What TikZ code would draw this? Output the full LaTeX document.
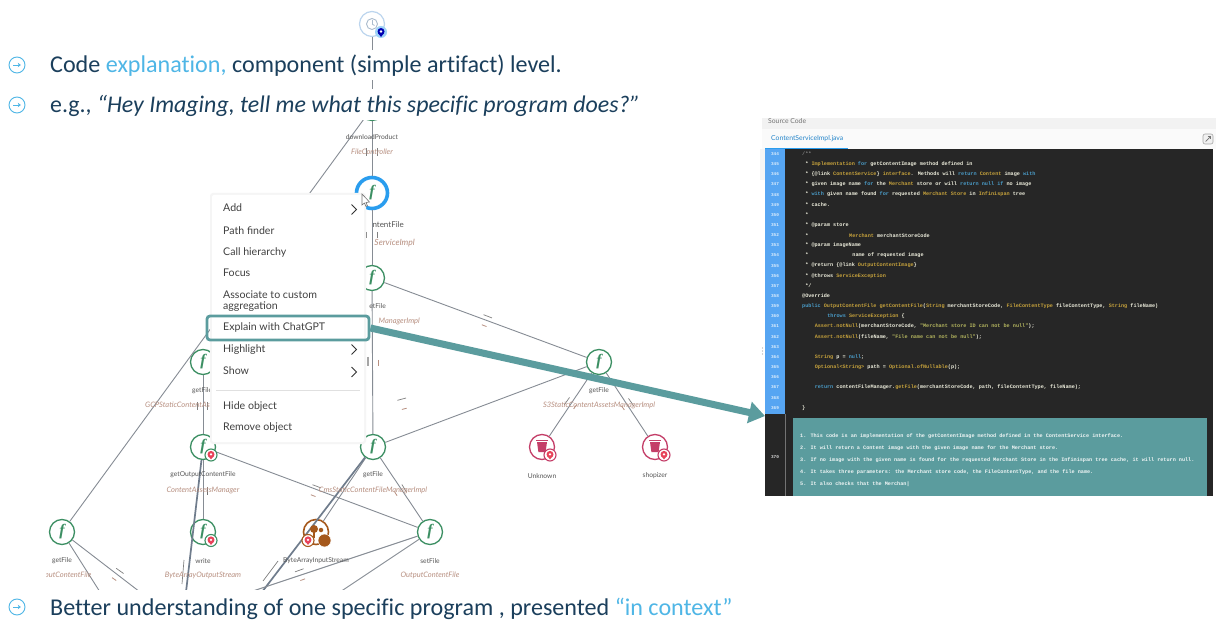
\documentclass[tikz,border=0pt]{standalone}
\usepackage{fontspec}
\setmainfont{Carlito}[Ligatures=NoCommon]
\newfontfamily\uifont{Lato}
\newfontfamily\codefont{Liberation Mono}
\newfontfamily\ffont{Liberation Serif}
\usetikzlibrary{arrows.meta,calc}
\definecolor{navy}{HTML}{1B3F5C}
\definecolor{sky}{HTML}{4FB6E6}
\definecolor{teal1}{HTML}{5B9C9E}
\definecolor{fgreen}{HTML}{3C8F63}
\definecolor{ringblue}{HTML}{2A9DEE}
\definecolor{pale}{HTML}{BCD5EE}
\definecolor{crim}{HTML}{C43E68}
\definecolor{pinred}{HTML}{E8435A}
\definecolor{brownn}{HTML}{A5581C}
\definecolor{edgeg}{HTML}{868C94}
\definecolor{edged}{HTML}{6F7C8C}
\definecolor{lblgray}{HTML}{555555}
\definecolor{lblbrown}{HTML}{B78F80}
\definecolor{codebg}{HTML}{262626}
\definecolor{numblue}{HTML}{56A5F2}
\definecolor{kw}{HTML}{4A9CC8}
\definecolor{yl}{HTML}{C6A23C}
\definecolor{st}{HTML}{B3B45E}
\definecolor{pl}{HTML}{EDEDDC}
\newcommand{\K}[1]{\textcolor{kw}{#1}}
\newcommand{\Y}[1]{\textcolor{yl}{#1}}
\newcommand{\St}[1]{\textcolor{st}{#1}}
\newcommand{\cl}[3]{%
  \pgfmathsetmacro{\cly}{154+(#1-344)*10.15}%
  \pgfmathsetmacro{\clx}{802+#2*3.14}%
  \node[codeline] (c#1) at (\clx,\cly) {#3};}
\newcommand{\tl}[3]{\node[tealline] (t#1) at (800,#2) {#3};}
\newcommand{\fn}[3]{\node[fnode] (#1) at (#2,#3) {f};}
\newcommand{\lb}[4]{\node[nlabel] (#1) at (#2,#3) {#4};}
\newcommand{\lc}[4]{\node[clabel] (#1) at (#2,#3) {#4};}
\newcommand{\badge}[4]{%
  \node[badgering,draw=#4] (#1) at (#2,#3) {};
  \node[pinhead] (#1p) at (#2,#3-0.6) {};
  \fill[pinred] ($(#1p)+(-3,1.2)$) -- ($(#1p)+(3,1.2)$) -- ($(#1p)+(0,5)$) -- cycle;
  \node[pindot] (#1d) at (#2,#3-0.6) {};}
\newcommand{\mk}[3]{%
  \begin{scope}[shift={(#1,#2)},rotate=-#3]
    \draw[line width=.7pt,black!50] (-4.5,-5) -- (4.5,-5);
    \draw[line width=.8pt,lblbrown] (-2.5,5) -- (2.5,5);
  \end{scope}}
\newcommand{\bul}[2]{%
  \node[bulletc] (#1) at (17,#2) {};
  \draw[-{Stealth[length=3pt,width=4.5pt]},sky,line width=.9pt] ($(#1.center)+(-3.8,0)$) -- ($(#1.center)+(3.8,0)$);}
\newcommand{\chev}[1]{\draw[line width=1pt,black!80] ($(#1)+(-2.5,-5)$) -- ($(#1)+(2.5,0)$) -- ($(#1)+(-2.5,5)$);}
\tikzset{
  fnode/.style={circle,draw=fgreen,fill=white,line width=1.3pt,minimum size=25pt,inner sep=0pt,text=fgreen,font=\ffont\fontsize{16}{16}\selectfont\bfseries\itshape},
  nlabel/.style={font=\uifont\fontsize{6.7}{7}\selectfont,text=lblgray,inner sep=0pt},
  clabel/.style={font=\uifont\fontsize{7.5}{8}\selectfont\itshape,text=lblbrown,inner sep=0pt},
  edgeline/.style={edgeg,line width=.9pt},
  thickedge/.style={edged,line width=1.7pt},
  badgering/.style={circle,fill=white,line width=1.1pt,minimum size=12pt,inner sep=0pt},
  pinhead/.style={circle,fill=pinred,minimum size=7pt,inner sep=0pt},
  pindot/.style={circle,fill=white,minimum size=2.6pt,inner sep=0pt},
  bulletc/.style={circle,draw=sky,fill=white,line width=.9pt,minimum size=16pt,inner sep=0pt},
  bigtext/.style={anchor=base west,inner sep=0pt,text=navy,font=\fontsize{24.1}{25}\selectfont},
  menuitem/.style={anchor=base west,inner sep=0pt,text=black!75,font=\uifont\fontsize{10.6}{11}\selectfont},
  codeline/.style={anchor=west,inner sep=0pt,text=pl,font=\codefont\bfseries\fontsize{5.16}{6}\selectfont},
  tealline/.style={anchor=west,inner sep=0pt,text=white!90!teal1,font=\codefont\bfseries\fontsize{5.16}{6}\selectfont},
  lineno/.style={inner sep=0pt,text=white!80!numblue,font=\codefont\bfseries\fontsize{4.4}{5}\selectfont},
  bucketn/.style={circle,draw=crim,fill=white,line width=1.3pt,minimum size=25pt,inner sep=0pt},
}
\begin{document}
\begin{tikzpicture}[x=1pt,y=-1pt]
\useasboundingbox (0,0) rectangle (1216,620);
\fill[white] (0,0) rectangle (1216,620);
% --- graph nodes
\node[circle,draw=pale,fill=white,line width=1.2pt,minimum size=25pt,inner sep=0pt] (top) at (372,24) {};
\node[fnode] (dl) at (372,108) {};
\node[circle,draw=ringblue,fill=white,line width=3.6pt,minimum size=31pt,inner sep=0pt,text=fgreen,font=\ffont\fontsize{16}{16}\selectfont\bfseries\itshape] (cf) at (372,193) {f};
\fn{gfa}{372}{278}
\fn{gfb}{203}{362}
\fn{gfr}{599}{362}
\fn{goc}{203}{447}
\fn{gfc}{373}{447}
\fn{gfd}{62}{532}
\fn{wr}{203}{532}
\node[circle,draw=brownn,fill=white,line width=1.6pt,minimum size=25pt,inner sep=0pt] (bais) at (316,532) {};
\fn{sf}{430}{532}
\node[bucketn] (unk) at (542,447) {};
\node[bucketn] (shp) at (655,447) {};
% --- free ends
\coordinate (e1) at (186,592);
\coordinate (e2) at (262,592);
\coordinate (e3) at (250,592);
\coordinate (e4) at (340,592);
\coordinate (e5) at (100,592);
\coordinate (e6) at (140,592);
% --- edges
\draw[edgeline] (top) -- (dl);
\draw[edgeline] (dl) -- (cf);
\draw[edgeline] (cf) -- (gfa);
\draw[edgeline] (gfa) -- (gfc);
\draw[edgeline] (gfa) -- (gfr);
\draw[edgeline] (dl) -- (gfd);
\draw[edgeline] (gfb) -- (goc);
\draw[edgeline] (goc) -- (wr);
\draw[edgeline] (goc) -- (sf);
\draw[edgeline] (gfc) -- (sf);
\draw[edgeline] (gfc) -- (gfr);
\draw[edgeline] (gfc) -- (bais);
\draw[edgeline] (gfr) -- (unk);
\draw[edgeline] (gfr) -- (shp);
\draw[thickedge] (goc) -- (e1);
\draw[thickedge] (gfc) -- (e2);
\draw[edgeline,line width=1pt] (sf) -- (e3);
\draw[edgeline] (sf) -- (e4);
\draw[edgeline] (gfd) -- (e5);
\draw[edgeline] (gfd) -- (e6);
\mk{486}{321}{21}
\mk{403}{404}{-15}
\mk{315}{491}{21}
\mk{301}{575}{-20}
\mk{117}{575}{35}
\mk{571}{404}{-55}
\mk{627}{405}{55}
\mk{400}{491}{58}
\draw[line width=.7pt,black!50] (278,561) -- (263,581);
\draw[line width=.7pt,black!50] (184,560) -- (182,584);
\draw[line width=1pt,black!55] (207,487) -- (207,495);
\draw[line width=1.3pt,black!35] (368,357) -- (368,366);
\draw[line width=1pt,lblbrown] (378,360) -- (378,366);
\draw[line width=.7pt,black!50] (366,148) -- (366,156);
\draw[line width=.7pt,black!50] (377,148) -- (377,156);
\draw[line width=.7pt,black!50] (366,232) -- (366,238);
\draw[line width=.7pt,black!50] (377,232) -- (377,238);
\draw[line width=1pt,black!50] (197,402) -- (197,410);
\draw[line width=1pt,black!50] (207,402) -- (207,410);
% --- icons over nodes
\node[circle,draw=pale!70!gray,line width=.9pt,minimum size=11pt,inner sep=0pt] (clock) at (372,24) {};
\draw[pale!70!gray,line width=.8pt] (clock.center) -- ++(0,-3.5);
\draw[pale!70!gray,line width=.8pt] (clock.center) -- ++(2.5,1.5);
\node[circle,fill=ringblue!45,minimum size=12pt,inner sep=0pt] (topbg) at (381,32) {};
\node[circle,fill=blue!70!black,minimum size=7pt,inner sep=0pt] (toppin) at (381,31.5) {};
\fill[blue!70!black] (378,33) -- (384,33) -- (381,37) -- cycle;
\node[pindot] (topdot) at (381,31.5) {};
\badge{b1}{211}{455}{fgreen}
\badge{b2}{211}{540.5}{fgreen}
\node[circle,fill=brownn,minimum size=8pt,inner sep=0pt] (tree1) at (314,529) {};
\node[circle,fill=brownn,minimum size=4.5pt,inner sep=0pt] (tree2) at (321,530) {};
\draw[brownn,line width=1.2pt] (tree1.center) -- ++(0,9);
\badge{b3}{308}{540.5}{brownn}
\node[circle,fill=brownn,draw=white,line width=.5pt,minimum size=13pt,inner sep=0pt] (bdisc) at (324.5,540.5) {};
\foreach \x in {542,655}{
  \fill[crim] (\x-5,442) -- (\x+5,442) -- (\x+3.6,452) -- (\x-3.6,452) -- cycle;
  \draw[crim,line width=1pt] (\x-6,440.3) -- (\x+6,440.3);
}
\badge{b4}{550}{455}{crim}
\badge{b5}{664}{455}{crim}
% --- node labels
\lb{ldl}{372}{137}{downloadProduct}
\lc{ldlc}{372}{152}{FileController}
\node[nlabel,font=\uifont\fontsize{8}{9}\selectfont,anchor=east] (lcf) at (404,225) {ntentFile};
\node[clabel,font=\uifont\fontsize{8.5}{9}\selectfont\itshape,anchor=east] (lcfc) at (415,243) {ServiceImpl};
\node[nlabel,anchor=east] (lgfa) at (386,306) {etFile};
\node[clabel,anchor=east] (lgfac) at (420,321) {ManagerImpl};
\node[nlabel,anchor=west] (lgfb) at (192,391) {getFile};
\node[clabel,anchor=west] (lgfbc) at (145,405) {GCPStaticContentAss};
\lb{lgoc}{203}{475}{getOutputContentFile}
\lc{lgocc}{203}{490}{ContentAssetsManager}
\lb{lgfc}{373}{475}{getFile}
\lc{lgfcc}{373}{490}{CmsStaticContentFileManagerImpl}
\lb{lgfd}{62}{561}{getFile}
\lc{lgfdc}{62}{575}{OutputContentFile}
\lb{lwr}{203}{561}{write}
\lc{lwrc}{203}{575}{ByteArrayOutputStream}
\lb{lbais}{316}{561}{ByteArrayInputStream}
\lb{lsf}{430}{561}{setFile}
\lc{lsfc}{430}{575}{OutputContentFile}
\lb{lgfr}{599}{391}{getFile}
\lc{lgfrc}{599}{405}{S3StaticContentAssetsManagerImpl}
\lb{lunk}{542}{476}{Unknown}
\lb{lshp}{655}{476}{shopizer}
% --- white bands
\fill[white] (0,50) rectangle (572,80);
\fill[white] (0,89) rectangle (648,120);
\fill[white] (0,120) rectangle (46,600);
\fill[white] (0,590) rectangle (740,620);
% --- context menu
\fill[black!4,rounded corners=3pt] (210,193) rectangle (366,444);
\fill[white,rounded corners=2pt] (212,195) rectangle (364,442);
\node[menuitem] (m1) at (223,212) {Add};
\node[menuitem] (m2) at (223,234.5) {Path finder};
\node[menuitem] (m3) at (223,255.5) {Call hierarchy};
\node[menuitem] (m4) at (223,277) {Focus};
\node[menuitem] (m5) at (223,298.5) {Associate to custom};
\node[menuitem] (m5b) at (223,310) {aggregation};
\node[menuitem] (m6) at (223,331) {Explain with ChatGPT};
\node[menuitem] (m7) at (223,352.5) {Highlight};
\node[menuitem] (m8) at (223,374.5) {Show};
\node[menuitem] (m9) at (223,409.5) {Hide object};
\node[menuitem] (m10) at (223,430.5) {Remove object};
\coordinate (ca) at (354,209.5);
\coordinate (cb) at (354,349.5);
\coordinate (cc) at (354,372);
\chev{ca} \chev{cb} \chev{cc}
\draw[black!12,line width=.8pt] (216,390) -- (360,390);
% cursor
\draw[black!55,fill=white,line width=.6pt] (362,194) -- (362,205) -- (364.5,203) -- (366,206.5) -- (367.5,205.8) -- (366,202.5) -- (369.5,202) -- cycle;
% --- source panel
\fill[black!5] (762,118) rectangle (1216,129);
\fill[black!2] (762,129) rectangle (1216,149);
\fill[black!4] (760,149) rectangle (765,180);
\node[anchor=west,inner sep=0pt,text=black!55,font=\uifont\fontsize{6.8}{7}\selectfont] (srch) at (768,121) {Source Code};
\node[anchor=west,inner sep=0pt,text=ringblue!85!black,font=\uifont\fontsize{6.8}{7}\selectfont] (tab) at (771,139) {ContentServiceImpl.java};
\draw[ringblue,line width=1pt] (765,148.5) -- (848,148.5);
\node[draw=black!35,fill=black!6,rounded corners=2pt,minimum size=10pt,inner sep=0pt,line width=.6pt] (ico) at (1208,139) {};
\draw[black!55,line width=.7pt] (1205.5,141.5) -- (1210.5,136.5);
\draw[black!55,line width=.7pt] (1207.5,136.5) -- (1210.5,136.5) -- (1210.5,139.5);
\fill[codebg] (765,149) rectangle (1213,496);
\fill[numblue] (765,149) rectangle (785,414);
\draw[black!55,line width=.7pt] (785.5,414) -- (785.5,496);
\foreach \d in {348,351,354}{\fill[black!35] (762.5,\d) circle (.6);}
\foreach \n in {344,...,369}{
  \pgfmathsetmacro{\ny}{154+(\n-344)*10.15}
  \node[lineno] (n\n) at (775,\ny) {\n};
}
\node[lineno,text=white!85!black] (n370) at (775,457) {370};
\cl{344}{0}{\textcolor{black!50}{/**}}
\cl{345}{1}{* \Y{Implementation} \K{for} getContentImage method defined in}
\cl{346}{1}{* \{@link \Y{ContentService}\} \Y{interface}. Methods will \K{return} \Y{Content} image \K{with}}
\cl{347}{1}{* given image name \K{for} the \Y{Merchant} store or will \K{return} \K{null} \K{if} no image}
\cl{348}{1}{* \K{with} given name found \K{for} requested \Y{Merchant} \Y{Store} in \Y{Infinispan} tree}
\cl{349}{1}{* cache.}
\cl{350}{1}{*}
\cl{351}{1}{* @param store}
\cl{352}{1}{*\hspace{40.8pt}\Y{Merchant} merchantStoreCode}
\cl{353}{1}{* @param imageName}
\cl{354}{1}{*\hspace{44pt}name of requested image}
\cl{355}{1}{* @return \{@link \Y{OutputContentImage}\}}
\cl{356}{1}{* @throws \Y{ServiceException}}
\cl{357}{1}{*/}
\cl{358}{0}{@Override}
\cl{359}{0}{\K{public} \Y{OutputContentFile} \Y{getContentFile}(\Y{String} merchantStoreCode, \Y{FileContentType} fileContentType, \Y{String} fileName)}
\cl{360}{8}{\K{throws} \Y{ServiceException} \{}
\cl{361}{4}{\Y{Assert.notNull}(merchantStoreCode, \St{"Merchant store ID can not be null"});}
\cl{362}{4}{\Y{Assert.notNull}(fileName, \St{"File name can not be null"});}
\cl{364}{4}{\Y{String} p = \K{null};}
\cl{365}{4}{\Y{Optional<String>} path = \Y{Optional.ofNullable}(p);}
\cl{367}{4}{\K{return} contentFileManager.\Y{getFile}(merchantStoreCode, path, fileContentType, fileName);}
\cl{369}{0}{\}}
\fill[teal1] (793,418) rectangle (1207,496);
\tl{1}{436}{1. This code is an implementation of the getContentImage method defined in the ContentService interface.}
\tl{2}{448}{2. It will return a Content image with the given image name for the Merchant store.}
\tl{3}{460}{3. If no image with the given name is found for the requested Merchant Store in the Infinispan tree cache, it will return null.}
\tl{4}{472}{4. It takes three parameters: the Merchant store code, the FileContentType, and the file name.}
\tl{5}{484}{5. It also checks that the Merchan|}
% --- highlight and arrow
\node[draw=teal1,line width=2.8pt,rounded corners=3pt,minimum width=162pt,minimum height=24pt,inner sep=0pt] (hl) at (288,328) {};
\coordinate (tip) at (765,416);
\draw[teal1,line width=7pt,-{Triangle[length=16pt,width=21pt]}] (hl.east) -- (tip);
% --- headline text
\bul{s1}{65}
\bul{s2}{105}
\bul{s3}{607}
\node[bigtext] (h1) at (50,73) {Code \textcolor{sky}{explanation,} component (simple artifact) level.};
\node[bigtext,font=\fontsize{23.9}{25}\selectfont] (h2) at (50,113) {e.g., \textit{“Hey Imaging, tell me what this specific program does?”}};
\node[bigtext] (h3) at (50,615) {Better understanding of one specific program , presented \textcolor{sky}{“in context”}};
\end{tikzpicture}
\end{document}
